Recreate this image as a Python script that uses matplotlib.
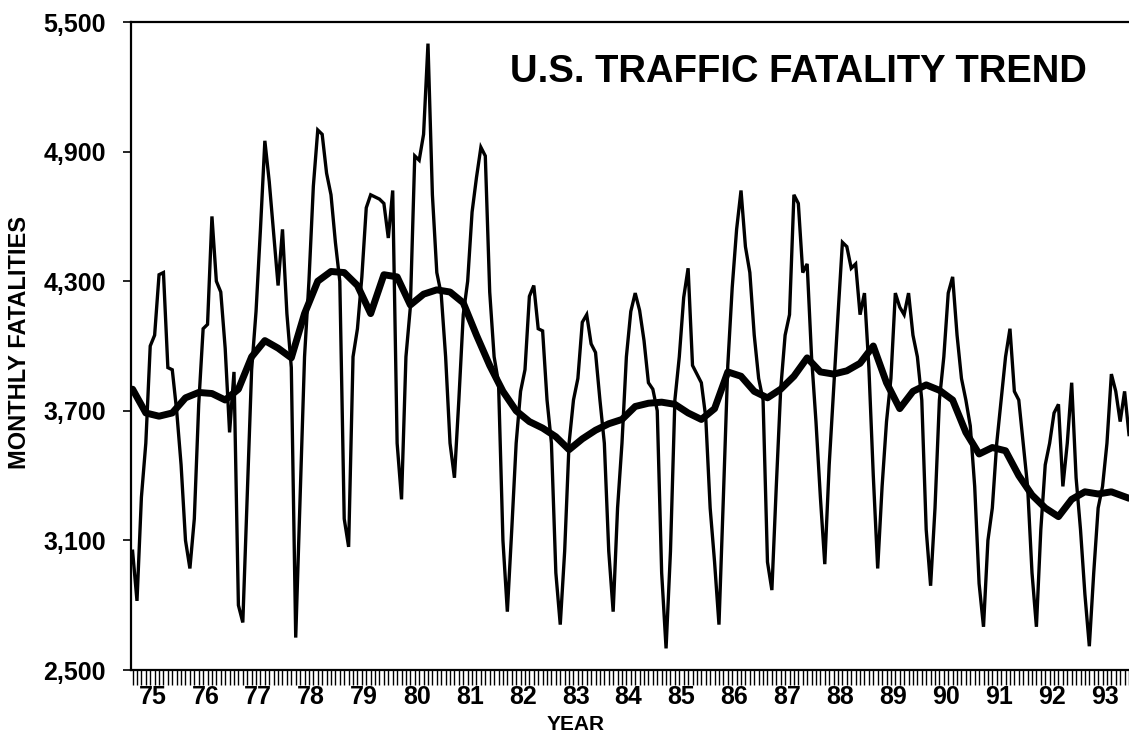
import numpy as np
import matplotlib
matplotlib.use("Agg")
from matplotlib import pyplot as plt
from matplotlib.ticker import FuncFormatter

# monthly fatalities (Jan..Dec)
y1975 = [3050, 2820, 3300, 3550, 4000, 4050, 4330, 4340, 3900, 3890, 3700, 3450]
y1976 = [3100, 2970, 3200, 3730, 4080, 4100, 4600, 4300, 4250, 3990, 3600, 3880]
y1977 = [2800, 2720, 3310, 3890, 4160, 4540, 4950, 4760, 4520, 4280, 4540, 4150]
y1978 = [3900, 2650, 3300, 3950, 4300, 4740, 5000, 4980, 4800, 4700, 4480, 4300]
y1979 = [3200, 3070, 3950, 4080, 4320, 4640, 4700, 4690, 4680, 4660, 4500, 4720]
y1980 = [3550, 3290, 3950, 4180, 4880, 4860, 4980, 5400, 4700, 4340, 4240, 3950]
y1981 = [3550, 3390, 3750, 4145, 4300, 4620, 4780, 4920, 4880, 4250, 3950, 3830]
y1982 = [3100, 2770, 3150, 3550, 3790, 3890, 4230, 4280, 4080, 4070, 3750, 3550]
y1983 = [2950, 2710, 3050, 3550, 3750, 3850, 4110, 4145, 4010, 3970, 3750, 3550]
y1984 = [3050, 2770, 3250, 3550, 3950, 4160, 4245, 4165, 4025, 3830, 3800, 3700]
y1985 = [2950, 2600, 3050, 3750, 3950, 4225, 4360, 3910, 3870, 3830, 3670, 3250]
y1986 = [3000, 2710, 3300, 3910, 4270, 4540, 4720, 4460, 4340, 4050, 3850, 3750]
y1987 = [3000, 2870, 3350, 3800, 4050, 4145, 4700, 4660, 4340, 4380, 3950, 3650]
y1988 = [3300, 2990, 3450, 3800, 4145, 4480, 4460, 4360, 4380, 4145, 4245, 3900]
y1989 = [3400, 2970, 3350, 3650, 3850, 4245, 4180, 4145, 4245, 4050, 3950, 3750]
y1990 = [3150, 2890, 3250, 3750, 3950, 4245, 4320, 4050, 3850, 3750, 3630, 3350]
y1991 = [2900, 2700, 3100, 3250, 3550, 3750, 3950, 4080, 3790, 3750, 3550, 3350]
y1992 = [2950, 2700, 3150, 3450, 3550, 3690, 3730, 3350, 3550, 3830, 3390, 3150]
y1993 = [2850, 2610, 2950, 3250, 3350, 3550, 3870, 3790, 3650, 3790, 3590]  # chart cut after Nov

years = ['75', '76', '77', '78', '79', '80', '81', '82', '83', '84',
         '85', '86', '87', '88', '89', '90', '91', '92', '93']

# smoothed trend, read every 3 months (month index from Jan 75)
trend_month = [0, 3, 6, 9, 12, 15, 18, 21, 24, 27, 30, 33, 36, 39, 42, 45, 48, 51,
               54, 57, 60, 63, 66, 69, 72, 75, 78, 81, 84, 87, 90, 93, 96, 99, 102,
               105, 108, 111, 114, 117, 120, 123, 126, 129, 132, 135, 138, 141, 144,
               147, 150, 153, 156, 159, 162, 165, 168, 171, 174, 177, 180, 183, 186,
               189, 192, 195, 198, 201, 204, 207, 210, 213, 216, 219, 222, 226]
trend_val = [3800, 3690, 3675, 3690, 3760, 3785, 3780, 3750, 3800, 3950, 4025, 3990,
             3945, 4150, 4300, 4345, 4340, 4280, 4150, 4330, 4320, 4190, 4240, 4260,
             4250, 4200, 4050, 3910, 3790, 3700, 3650, 3620, 3580, 3520, 3570, 3610,
             3640, 3660, 3720, 3735, 3740, 3730, 3690, 3660, 3710, 3880, 3860, 3790,
             3760, 3800, 3860, 3945, 3880, 3870, 3885, 3920, 4000, 3830, 3710, 3790,
             3820, 3795, 3750, 3600, 3500, 3530, 3515, 3400, 3310, 3250, 3210, 3290,
             3325, 3315, 3325, 3295]

monthly = np.concatenate([y1975, y1976, y1977, y1978, y1979, y1980, y1981, y1982,
                          y1983, y1984, y1985, y1986, y1987, y1988, y1989, y1990,
                          y1991, y1992, y1993])
months = np.arange(len(monthly))

plt.rcParams['font.family'] = ['Liberation Sans', 'DejaVu Sans']
plt.rcParams['font.weight'] = 'bold'

fig = plt.figure(figsize=(11.29, 7.39), dpi=100)
ax = fig.add_axes([131 / 1129, 69 / 739, 998 / 1129, 648 / 739])

ax.plot(months, monthly, color='black', lw=2.4, solid_joinstyle='miter')
ax.plot(trend_month, trend_val, color='black', lw=5, solid_capstyle='round',
        solid_joinstyle='round')

ax.set_xlim(-0.36, 225.8)
ax.set_ylim(2500, 5500)
ax.set_yticks(np.arange(2500, 5501, 600))
ax.yaxis.set_major_formatter(FuncFormatter(lambda v, p: f'{int(v):,}'))
ax.tick_params(axis='y', length=6, width=1.2, labelsize=18, pad=12)

ax.xaxis.remove_overlapping_locs = False
ax.set_xticks(np.arange(0, 227))
ax.set_xticklabels([])
ax.set_xticks(np.arange(len(years)) * 12 + 4.5, minor=True)
ax.set_xticklabels(years, minor=True)
ax.tick_params(axis='x', which='major', length=11, width=1.0, direction='out')
ax.tick_params(axis='x', which='minor', length=0, labelsize=18, pad=11)

for s in ['left', 'bottom', 'top']:
    ax.spines[s].set_linewidth(1.6)
ax.spines['right'].set_visible(False)

ax.set_ylabel('MONTHLY FATALITIES', fontsize=17, fontweight='bold')
ax.yaxis.set_label_coords(-0.100, 0.505)
ax.set_xlabel('YEAR', fontsize=15, fontweight='bold')
ax.xaxis.set_label_coords(0.445, -0.070)

ax.text(0.669, 0.923, 'U.S. TRAFFIC FATALITY TREND', transform=ax.transAxes,
        ha='center', va='center', fontsize=27.5, fontweight='bold')

fig.savefig('out.png', dpi=100)
